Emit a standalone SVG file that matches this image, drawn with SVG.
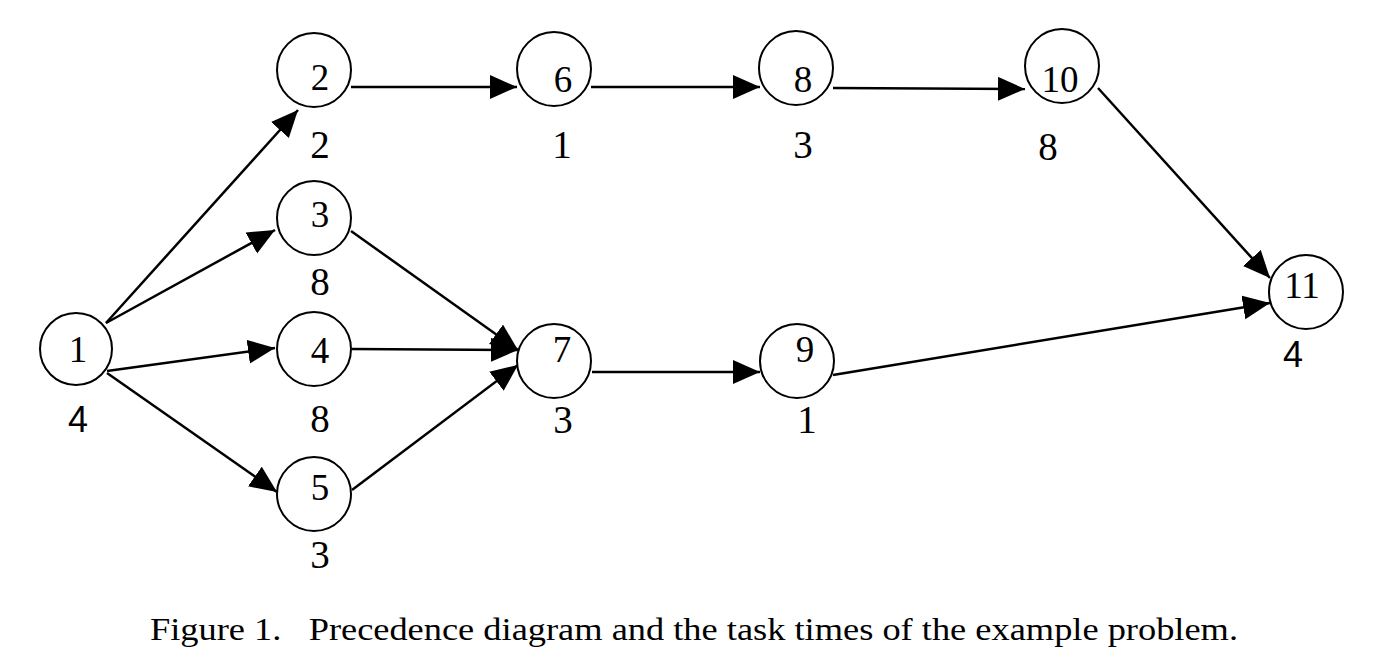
<svg xmlns="http://www.w3.org/2000/svg" width="1377" height="668" viewBox="0 0 1377 668">
<style>
.node circle{fill:#fff;stroke:#000;stroke-width:2}
.num{font-family:'Liberation Serif','Times New Roman',Times,serif;font-size:37px;text-anchor:middle;fill:#000}
.lbl{font-family:'Liberation Serif','Times New Roman',Times,serif;font-size:39px;text-anchor:middle;fill:#000}
.lbls{font-family:'Liberation Sans',Arial,sans-serif;font-size:36px;text-anchor:middle;fill:#000}
#edges line{stroke:#000;stroke-width:2.5;marker-end:url(#ah)}
.cap{font-family:'Liberation Serif','Times New Roman',Times,serif;font-size:32px;fill:#000}
</style>
<defs>
<marker id="ah" markerUnits="userSpaceOnUse" markerWidth="30" markerHeight="26" refX="27" refY="12" orient="auto">
<path d="M0,0 L27,12 L0,24 z" fill="#000"/>
</marker>
</defs>
<rect width="1377" height="668" fill="#fff"/>
<g id="edges">
<line x1="106" y1="323" x2="298" y2="110"/>
<line x1="106" y1="323" x2="275" y2="230"/>
<line x1="107" y1="371" x2="275" y2="348"/>
<line x1="107" y1="373" x2="277" y2="492"/>
<line x1="351" y1="87" x2="517" y2="87"/>
<line x1="591" y1="87" x2="760" y2="87"/>
<line x1="833" y1="88" x2="1025" y2="89"/>
<line x1="1098" y1="88" x2="1270" y2="278"/>
<line x1="351" y1="231" x2="518" y2="350"/>
<line x1="352" y1="349" x2="518" y2="350"/>
<line x1="352" y1="490" x2="518" y2="365"/>
<line x1="592" y1="372" x2="760" y2="372"/>
<line x1="833" y1="375" x2="1270" y2="303"/>
</g>
<g id="n1" class="node"><circle cx="76" cy="349" r="36"/><text class="num" x="78" y="362">1</text><text class="lbls" x="78" y="432">4</text></g>
<g id="n2" class="node"><circle cx="314" cy="70" r="37"/><text class="num" x="320" y="90">2</text><text class="lbl" x="320" y="158">2</text></g>
<g id="n3" class="node"><circle cx="314" cy="218" r="37"/><text class="num" x="320" y="227">3</text><text class="lbl" x="320" y="295">8</text></g>
<g id="n4" class="node"><circle cx="314" cy="349" r="37"/><text class="num" x="320" y="363">4</text><text class="lbl" x="320" y="432">8</text></g>
<g id="n5" class="node"><circle cx="314" cy="494" r="37"/><text class="num" x="320" y="500">5</text><text class="lbl" x="320" y="568">3</text></g>
<g id="n6" class="node"><circle cx="554" cy="69" r="37"/><text class="num" x="563" y="92">6</text><text class="lbl" x="562" y="158">1</text></g>
<g id="n7" class="node"><circle cx="554" cy="361" r="37"/><text class="num" x="562" y="362">7</text><text class="lbl" x="563" y="433">3</text></g>
<g id="n8" class="node"><circle cx="796" cy="68" r="37"/><text class="num" x="803" y="92">8</text><text class="lbl" x="803" y="158">3</text></g>
<g id="n9" class="node"><circle cx="797" cy="361" r="37"/><text class="num" x="805" y="362">9</text><text class="lbl" x="807" y="433">1</text></g>
<g id="n10" class="node"><circle cx="1062" cy="66" r="37"/><text class="num" x="1060" y="92">10</text><text class="lbl" x="1048" y="160">8</text></g>
<g id="n11" class="node"><circle cx="1306" cy="292" r="37"/><text class="num" x="1302" y="298">11</text><text class="lbls" x="1293" y="367">4</text></g>
<text class="cap" x="150" y="640" textLength="1088" lengthAdjust="spacingAndGlyphs" xml:space="preserve">Figure 1.   Precedence diagram and the task times of the example problem.</text>
</svg>
